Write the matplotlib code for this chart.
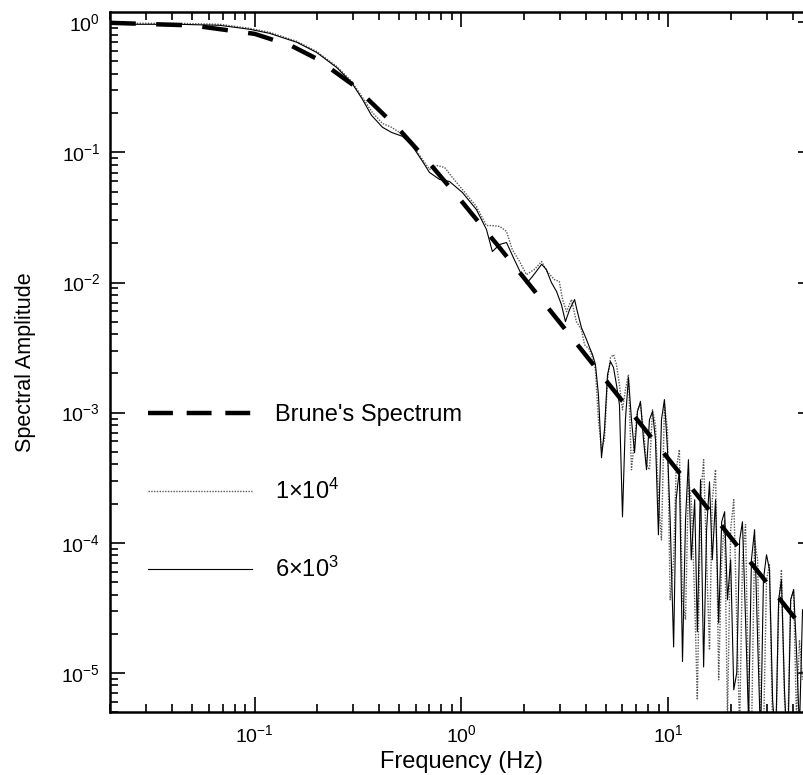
import matplotlib
matplotlib.use("Agg")
import matplotlib.pyplot as plt
from matplotlib.lines import Line2D
from matplotlib.ticker import LogLocator, NullFormatter

plt.rcParams['font.family'] = ['Liberation Sans', 'DejaVu Sans']
plt.rcParams['mathtext.fontset'] = 'custom'
plt.rcParams['mathtext.rm'] = 'Liberation Sans'
plt.rcParams['mathtext.it'] = 'Liberation Sans:italic'
plt.rcParams['mathtext.bf'] = 'Liberation Sans:bold'

# ---------------- data ----------------
brune_freq = [0.02, 0.05, 0.1, 0.15, 0.2, 0.3, 0.5, 0.7, 1.0, 1.5, 2.0, 3.0, 5.0,
              7.0, 10.0, 15.0, 20.0, 30.0, 50.0]
brune_amp = [0.991, 0.946, 0.815, 0.662, 0.524, 0.329, 0.150, 0.0826, 0.0422, 0.0192,
             0.0109, 0.00488, 0.00176, 0.000899, 0.000441, 0.000196, 0.000110,
             4.90e-5, 1.76e-5]

# 6x10^3 (solid thin line)
s6_freq_low = [0.0204, 0.0278, 0.0434, 0.0678, 0.0946, 0.118, 0.160, 0.199, 0.249,
               0.294, 0.332, 0.367, 0.415, 0.459, 0.519, 0.580, 0.648, 0.700, 0.783,
               0.875, 1.01, 1.18, 1.32, 1.41, 1.53, 1.65, 1.80, 1.95, 2.06, 2.20,
               2.44, 2.57, 2.72, 2.88, 3.04, 3.18, 3.33, 3.52, 3.63, 3.80, 4.02]
s6_amp_low = [0.965, 0.965, 0.965, 0.948, 0.884, 0.823, 0.702, 0.588, 0.450, 0.345,
              0.256, 0.193, 0.156, 0.1425, 0.1328, 0.1112, 0.0853, 0.0702, 0.0620,
              0.0598, 0.0492, 0.0364, 0.0256, 0.0173, 0.0196, 0.0203, 0.0150, 0.0115,
              0.00982, 0.0111, 0.0138, 0.0126, 0.0100, 0.00853, 0.00677, 0.00501,
              0.00620, 0.00740, 0.00598, 0.00450, 0.00364]

hf_freq = [4.16, 4.30, 4.44, 4.59, 4.75, 4.91, 5.08, 5.25, 5.43, 5.61, 5.80, 6.00,
           6.20, 6.41, 6.63, 6.86, 7.09, 7.33, 7.58, 7.84, 8.10, 8.38, 8.66, 8.95,
           9.26, 9.57, 9.90, 10.2, 10.6, 10.9, 11.3, 11.7, 12.1, 12.5, 12.9, 13.4,
           13.8, 14.3, 14.8, 15.3, 15.8, 16.3, 16.9, 17.5, 18.1, 18.7, 19.3, 20.0,
           20.7, 21.4, 22.1, 22.8, 23.6, 24.4, 25.2, 26.1, 27.0, 27.9, 28.8, 29.8,
           30.8, 31.9, 33.0, 34.1, 35.2, 36.4, 37.7, 39.0, 40.3, 41.6, 43.0, 44.5]

s6_amp_high = [0.00316, 0.00279, 0.00234, 0.00138, 0.000450, 0.000740, 0.00196,
               0.00247, 0.00222, 0.00164, 0.00115, 0.000158, 0.000884, 0.00186,
               0.000884, 0.000492, 0.00102, 0.00122, 0.000620, 0.000364, 0.000884,
               0.00102, 0.000620, 0.000115, 0.000884, 0.00126, 0.000519, 0.000150,
               1.58e-5, 0.000214, 0.000364, 1.22e-5, 0.000150, 0.000435, 7.40e-5,
               0.000214, 2.07e-5, 0.000305, 1.11e-5, 0.000126, 0.000294, 7.40e-5,
               0.000214, 2.42e-5, 0.000145, 0.000173, 3.64e-5, 7.40e-5, 7.40e-6,
               1.0e-5, 0.000105, 0.000145, 2.56e-5, 4.35e-6, 7.40e-5, 0.000126,
               1.79e-5, 3.05e-6, 5.19e-5, 8.09e-5, 6.20e-5, 6.20e-6, 2.79e-6,
               3.64e-5, 5.19e-5, 7.40e-6, 2.14e-6, 3.64e-5, 4.35e-5, 1.50e-5,
               3.64e-6, 3.05e-5]

# 1x10^4 (dotted line)
s10_freq_low = [0.0204, 0.0278, 0.0434, 0.0678, 0.0946, 0.118, 0.160, 0.199, 0.249,
                0.294, 0.332, 0.367, 0.415, 0.459, 0.519, 0.580, 0.648, 0.700, 0.757,
                0.828, 0.895, 1.01, 1.18, 1.32, 1.41, 1.53, 1.65, 1.76, 1.91, 2.06,
                2.25, 2.44, 2.60, 2.81, 2.97, 3.08, 3.22, 3.40, 3.59, 3.80, 3.93]
s10_amp_low = [0.982, 0.982, 0.982, 0.965, 0.899, 0.838, 0.714, 0.598, 0.459, 0.352,
               0.265, 0.207, 0.167, 0.156, 0.1376, 0.1132, 0.0884, 0.0740, 0.0794,
               0.0767, 0.0654, 0.0519, 0.0384, 0.0274, 0.0274, 0.0270, 0.0247, 0.0179,
               0.0145, 0.0115, 0.0126, 0.0145, 0.0121, 0.01054, 0.01018, 0.00740,
               0.00598, 0.00740, 0.00501, 0.00435, 0.00333]

s10_amp_high = [0.00305, 0.00265, 0.00214, 0.000884, 0.000519, 0.000620, 0.00179,
                0.00265, 0.00279, 0.00234, 0.00164, 0.00105, 0.00150, 0.00196,
                0.000364, 0.000620, 0.00105, 0.00115, 0.000740, 0.000398, 0.000364,
                0.00105, 0.000809, 0.000214, 0.000105, 0.00115, 0.000740, 3.64e-5,
                7.40e-5, 0.000364, 0.000519, 3.64e-5, 2.56e-5, 0.000305, 0.000214,
                3.64e-5, 6.20e-6, 0.000214, 0.000435, 7.40e-5, 1.50e-5, 0.000214,
                0.000364, 8.84e-6, 7.40e-5, 0.000150, 4.35e-6, 0.000126, 0.000214,
                2.56e-5, 3.64e-6, 7.40e-5, 0.000138, 6.20e-6, 3.05e-6, 0.000105,
                7.40e-5, 4.35e-6, 3.05e-6, 5.19e-5, 6.77e-5, 3.64e-6, 2.56e-6,
                3.05e-5, 6.20e-5, 6.20e-6, 3.05e-6, 3.64e-5, 4.35e-5, 4.35e-6,
                1.79e-5, 8.84e-6]

legend_labels = ["Brune's Spectrum", "1\u00d710$^4$", "6\u00d710$^3$"]
x_label = "Frequency (Hz)"
y_label = "Spectral Amplitude"

# ---------------- figure ----------------
fig = plt.figure(figsize=(8.04, 7.75), dpi=100)
ax = fig.add_axes([110 / 804, 63 / 775, 703 / 804, 700 / 775])
ax.set_xscale('log')
ax.set_yscale('log')

ax.plot(s10_freq_low + hf_freq, s10_amp_low + s10_amp_high, color='0.35',
        lw=1.0, linestyle=(0, (1, 1)), zorder=2)
ax.plot(s6_freq_low + hf_freq, s6_amp_low + s6_amp_high, color='black',
        lw=0.8, linestyle='-', zorder=3)
ax.plot(brune_freq, brune_amp, color='black', lw=3.2, dashes=(5.8, 4.6),
        solid_capstyle='butt', dash_capstyle='butt', zorder=4)

ax.set_xlim(0.02, 50)
ax.set_ylim(5e-6, 1.2)

for sp in ax.spines.values():
    sp.set_linewidth(1.8)

ax.xaxis.set_major_locator(LogLocator(base=10, numticks=20))
ax.xaxis.set_minor_locator(LogLocator(base=10, subs=range(2, 10), numticks=100))
ax.yaxis.set_major_locator(LogLocator(base=10, numticks=20))
ax.yaxis.set_minor_locator(LogLocator(base=10, subs=range(2, 10), numticks=100))
ax.xaxis.set_minor_formatter(NullFormatter())
ax.yaxis.set_minor_formatter(NullFormatter())

ax.tick_params(which='both', direction='in', top=True, right=True, width=1.2)
ax.tick_params(which='major', length=11, labelsize=14)
ax.tick_params(which='minor', length=6)
ax.tick_params(axis='y', which='major', pad=7)
ax.tick_params(axis='x', which='major', pad=9)

ax.set_xlabel(x_label, fontsize=17, labelpad=3)
ax.set_ylabel(y_label, fontsize=15.5, labelpad=18)

handles = [
    Line2D([], [], color='black', lw=3.2, dashes=(5.6, 3.1), dash_capstyle='butt'),
    Line2D([], [], color='0.35', lw=1.0, linestyle=(0, (1, 1))),
    Line2D([], [], color='black', lw=0.8),
]
ax.legend(handles, legend_labels, loc='center left', bbox_to_anchor=(0.054, 0.3128),
          frameon=False, fontsize=17, handlelength=4.41, handletextpad=0.97,
          labelspacing=2.24, borderpad=0, borderaxespad=0)

fig.savefig('out.png', dpi=100)
